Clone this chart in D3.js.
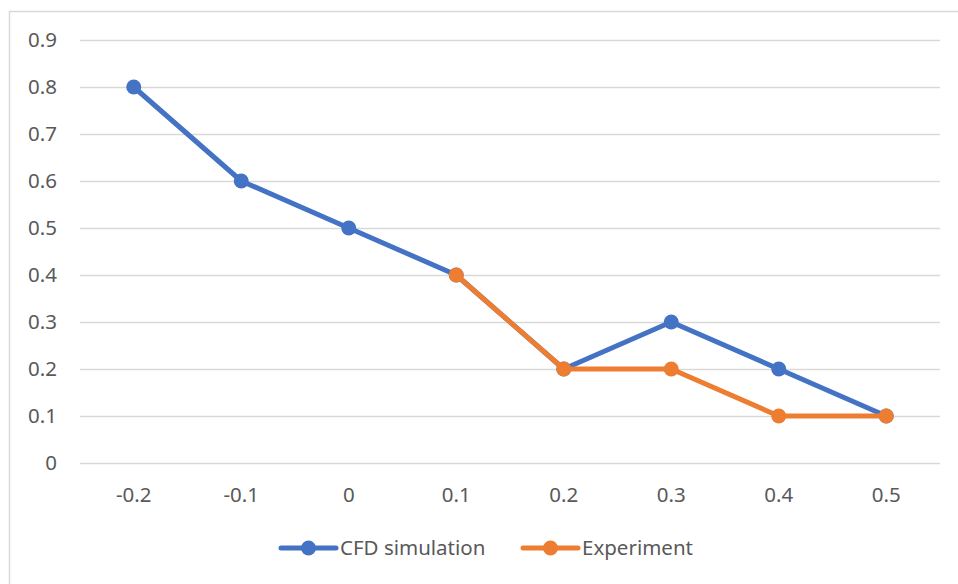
<!DOCTYPE html>
<html>
<head>
<meta charset="utf-8">
<script src="https://cdn.jsdelivr.net/npm/d3@7"></script>
<style>
  body { margin: 0; background: #fff; }
  text { font-family: "Noto Sans", "Liberation Sans", sans-serif; fill: #595959; }
</style>
</head>
<body>
<svg id="chart" width="958" height="584"></svg>
<script>
// chart data
const categories = ["-0.2", "-0.1", "0", "0.1", "0.2", "0.3", "0.4", "0.5"];
const cfdValues = [0.8, 0.6, 0.5, 0.4, 0.2, 0.3, 0.2, 0.1];
const expValues = [null, null, null, 0.4, 0.2, 0.2, 0.1, 0.1];
const yTicks = [0, 0.1, 0.2, 0.3, 0.4, 0.5, 0.6, 0.7, 0.8, 0.9];
const seriesNames = ["CFD simulation", "Experiment"];
const seriesColors = ["#4472C4", "#ED7D31"];

const svg = d3.select("#chart");
const fontSize = 20.5;
const lineW = 5;
const markerR = 7.5;

// outer chart frame (runs off the right/bottom of the picture)
svg.append("rect")
  .attr("x", 9.5).attr("y", 11.5)
  .attr("width", 1000).attr("height", 700)
  .attr("fill", "none")
  .attr("stroke", "#d9d9d9")
  .attr("stroke-width", 1.5);

const plot = { left: 80, right: 940, top: 40, bottom: 463 };

const x = d3.scaleBand()
  .domain(categories)
  .range([plot.left, plot.right]);

const y = d3.scaleLinear()
  .domain([0, 0.9])
  .range([plot.bottom, plot.top]);

// gridlines
svg.append("g")
  .selectAll("line")
  .data(yTicks)
  .join("line")
  .attr("x1", plot.left).attr("x2", plot.right)
  .attr("y1", d => Math.round(y(d)) + 0.5)
  .attr("y2", d => Math.round(y(d)) + 0.5)
  .attr("stroke", "#d9d9d9")
  .attr("stroke-width", 1.5);

// y labels
svg.append("g")
  .selectAll("text")
  .data(yTicks)
  .join("text")
  .attr("x", 57)
  .attr("y", d => y(d))
  .attr("dy", "0.35em")
  .attr("text-anchor", "end")
  .attr("font-size", fontSize)
  .text(d => d3.format("")(d));

// x labels
svg.append("g")
  .selectAll("text")
  .data(categories)
  .join("text")
  .attr("x", d => x(d) + x.bandwidth() / 2)
  .attr("y", 495)
  .attr("dy", "0.35em")
  .attr("text-anchor", "middle")
  .attr("font-size", fontSize)
  .text(d => d);

const allSeries = [cfdValues, expValues];

allSeries.forEach((vals, i) => {
  const pts = vals.map((v, j) => ({ c: categories[j], v }));
  const line = d3.line()
    .defined(d => d.v != null)
    .x(d => x(d.c) + x.bandwidth() / 2)
    .y(d => y(d.v));
  const g = svg.append("g");
  g.append("path")
    .datum(pts)
    .attr("d", line)
    .attr("fill", "none")
    .attr("stroke", seriesColors[i])
    .attr("stroke-width", lineW)
    .attr("stroke-linejoin", "round")
    .attr("stroke-linecap", "round");
  g.selectAll("circle")
    .data(pts.filter(d => d.v != null))
    .join("circle")
    .attr("cx", d => x(d.c) + x.bandwidth() / 2)
    .attr("cy", d => y(d.v))
    .attr("r", markerR)
    .attr("fill", seriesColors[i]);
});

// legend
const legendX = [281, 523];
const legendY = 548;
seriesNames.forEach((name, i) => {
  const g = svg.append("g").attr("transform", `translate(${legendX[i]},${legendY})`);
  g.append("line")
    .attr("x1", 0).attr("x2", 55)
    .attr("stroke", seriesColors[i])
    .attr("stroke-width", lineW)
    .attr("stroke-linecap", "round");
  g.append("circle")
    .attr("cx", 27.5).attr("r", markerR)
    .attr("fill", seriesColors[i]);
  g.append("text")
    .attr("x", 59)
    .attr("dy", "0.35em")
    .attr("font-size", fontSize)
    .text(name);
});
</script>
</body>
</html>
